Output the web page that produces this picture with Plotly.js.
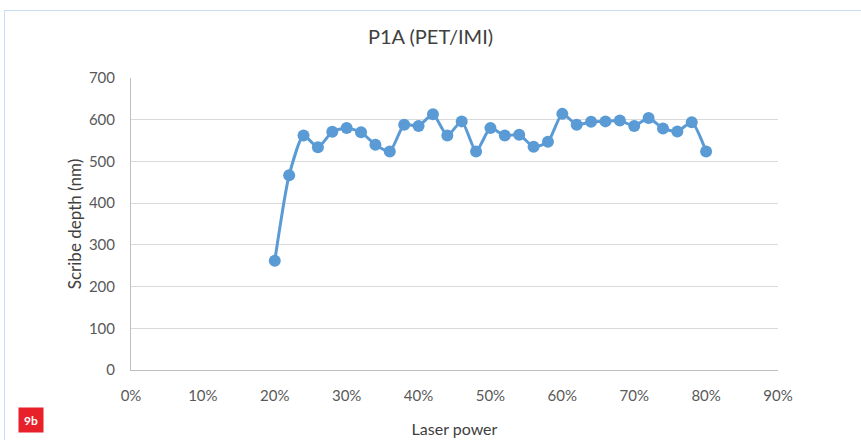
<!DOCTYPE html>
<html>
<head>
<meta charset="utf-8">
<script src="https://cdn.plot.ly/plotly-3.0.1.min.js"></script>
<style>
html,body{margin:0;padding:0;background:#fff;}
#wrap{position:relative;width:861px;height:440px;}
#chart{position:absolute;left:0;top:0;width:861px;height:440px;}
#frame{position:absolute;left:4px;top:10px;width:857px;height:430px;border-top:1px solid #c9def2;border-left:1px solid #c9def2;pointer-events:none;}
</style>
</head>
<body>
<div id="wrap"><div id="chart"></div><div id="frame"></div></div>
<script>
const laserPower = [0.20,0.22,0.24,0.26,0.28,0.30,0.32,0.34,0.36,0.38,0.40,0.42,0.44,0.46,0.48,0.50,0.52,0.54,0.56,0.58,0.60,0.62,0.64,0.66,0.68,0.70,0.72,0.74,0.76,0.78,0.80];
const scribeDepth = [262,467,562,534,571,580,570,540,524,588,585,613,562,596,524,580,562,564,535,547,614,588,595,596,598,585,604,579,572,594,524];
const xTickVals = [0,0.1,0.2,0.3,0.4,0.5,0.6,0.7,0.8,0.9];
const yTickVals = [0,100,200,300,400,500,600,700];
const chartTitle = 'P1A (PET/IMI)';
const xTitle = 'Laser power';
const yTitle = 'Scribe depth (nm)';
const figLabel = '9b';

const font = 'Lato, "Open Sans", "Liberation Sans", sans-serif';
const trace = {
  x: laserPower, y: scribeDepth, type: 'scatter', mode: 'lines+markers',
  line: {color: '#5B9BD5', width: 3, shape: 'spline', smoothing: 0.6},
  marker: {color: '#5B9BD5', size: 12},
  hoverinfo: 'skip'
};
const layout = {
  width: 861, height: 440,
  margin: {l: 131, r: 83, t: 78, b: 70},
  paper_bgcolor: '#fff', plot_bgcolor: '#fff',
  font: {family: font, color: '#595959', size: 15},
  showlegend: false,
  title: {text: chartTitle, x: 0.5, xanchor: 'center', y: 0.915, yanchor: 'middle',
          font: {family: font, size: 20, color: '#404040'}},
  xaxis: {
    range: [0, 0.9], tickvals: xTickVals, tickformat: '.0%',
    showgrid: false, zeroline: false, showline: true, linecolor: '#bfbfbf', linewidth: 1,
    ticks: '', ticklabelstandoff: 12,
    title: {text: xTitle, standoff: 20, font: {family: font, size: 16, color: '#404040'}},
    tickfont: {family: font, size: 15, color: '#595959'}, fixedrange: true
  },
  yaxis: {
    range: [0, 700], tickvals: yTickVals,
    showgrid: true, gridcolor: '#d9d9d9', gridwidth: 1, zeroline: false,
    showline: true, linecolor: '#bfbfbf', linewidth: 1,
    ticks: '', ticklabelstandoff: 12,
    title: {text: yTitle, standoff: 2, font: {family: font, size: 17, color: '#404040'}},
    tickfont: {family: font, size: 15, color: '#595959'}, fixedrange: true
  },
  annotations: [{
    text: '<b>' + figLabel + '</b>', xref: 'paper', yref: 'paper',
    x: -0.1745, y: -0.171, xanchor: 'left', yanchor: 'middle', showarrow: false,
    bgcolor: '#e8202a', font: {family: font, size: 12, color: '#fff'},
    borderpad: 3, width: 18, height: 18
  }]
};
Plotly.newPlot('chart', [trace], layout, {staticPlot: true, displayModeBar: false});
</script>
</body>
</html>
